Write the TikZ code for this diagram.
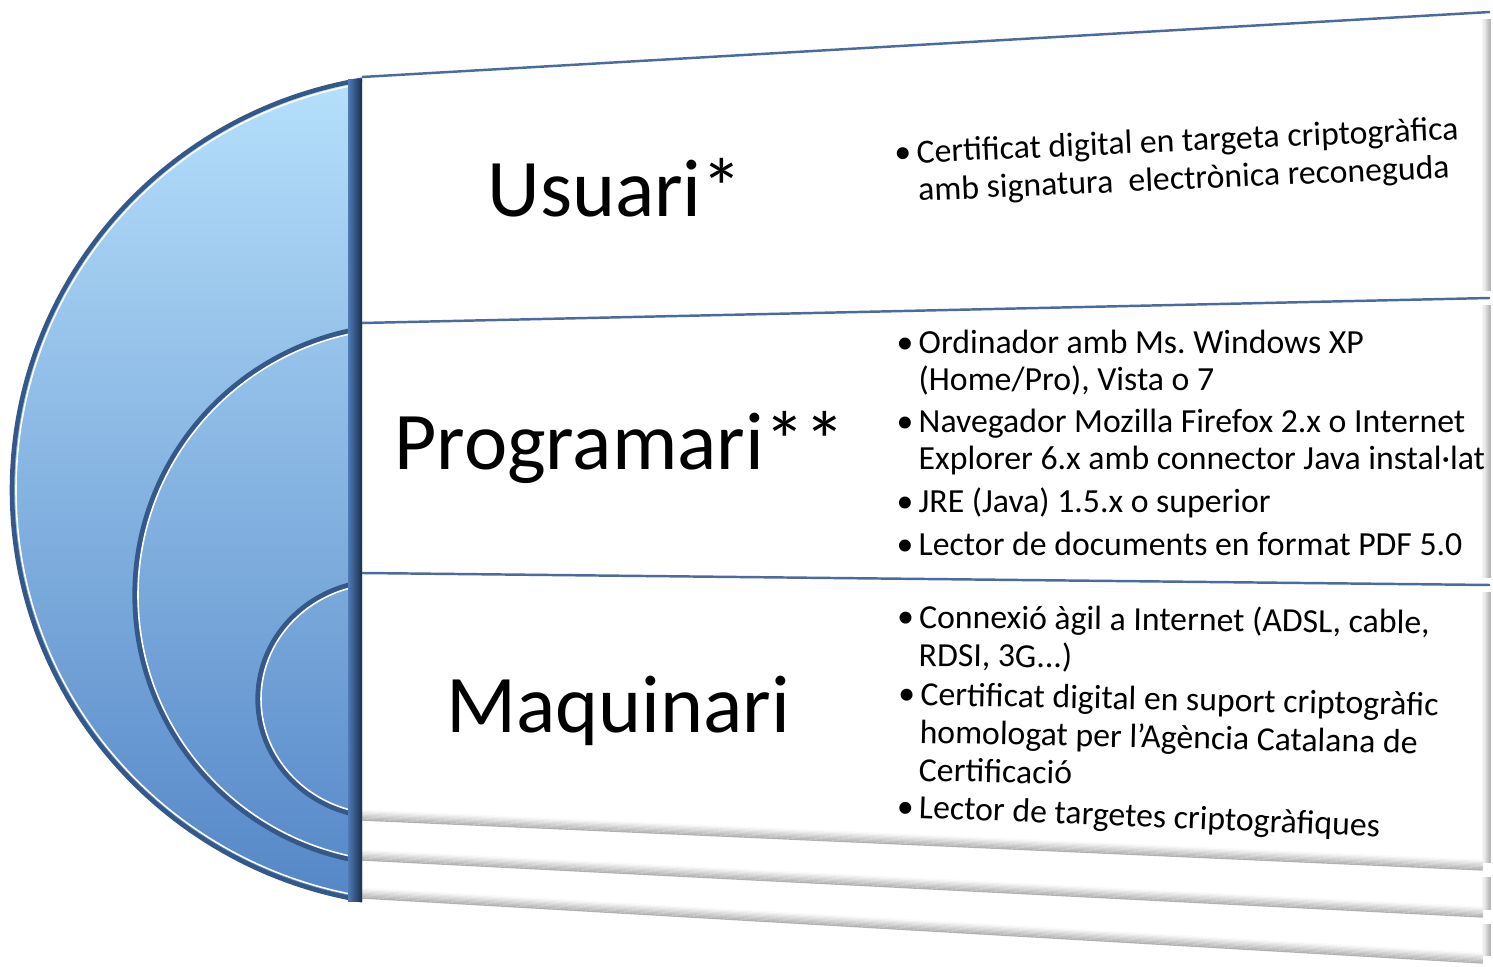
\documentclass[tikz,border=0pt]{standalone}
\usepackage{fontspec}
\setmainfont{Carlito}
\usepackage{xcolor}
\frenchspacing
\newlength{\ridgew}
\setlength{\ridgew}{1.5pt}
\definecolor{shapetop}{RGB}{182,224,251}
\definecolor{shapemid}{RGB}{122,174,230}
\definecolor{shapebot}{RGB}{84,134,199}
\definecolor{ridgedark}{RGB}{52,88,138}
\definecolor{barlight}{RGB}{78,122,182}
\definecolor{bardark}{RGB}{26,45,74}
\definecolor{panelline}{RGB}{74,106,160}
\newcommand{\itemdot}{\llap{\textbullet\hspace{1.5pt}}}

\tikzset{
  divider/.style={draw=panelline, line width=0.7pt},
  ridge/.style={draw=ridgedark, line width=\ridgew},
  glint/.style={draw=white, line width=0.45pt},
  biglabel/.style={font=\fontsize{23.3pt}{28pt}\selectfont, anchor=base, inner sep=0pt},
  bullets/.style={font=\fontsize{9.6pt}{10.8pt}\selectfont, align=left, anchor=base west, inner sep=0pt},
}

\begin{document}
\begin{tikzpicture}[x=0.01cm, y=-0.01cm]
\useasboundingbox (0,0) rectangle (1493,967);

% corners of the panel
\coordinate (tl) at (362,77);   \coordinate (tr) at (1490,12);
\coordinate (d1l) at (362,323); \coordinate (d1r) at (1490,298);
\coordinate (d2l) at (362,573); \coordinate (d2r) at (1490,585);
\coordinate (bl) at (362,820);  \coordinate (br) at (1490,870);
\coordinate (s1l) at (362,860); \coordinate (s1r) at (1490,917);
\coordinate (s2l) at (362,898); \coordinate (s2r) at (1490,963);

% shadows at the right edge and under the sheets
\foreach \a/\b in {tr/d1r, d1r/d2r, d2r/br, br/s1r, s1r/s2r}
  \foreach \k in {0,...,6}
    \draw[gray!\the\numexpr 55-\k*8\relax, line width=0.4pt]
      ([xshift=-\k*0.35pt, yshift=-2pt]\a) -- ([xshift=-\k*0.35pt, yshift=2pt]\b);
\foreach \a/\b in {bl/br, s1l/s1r, s2l/s2r}
  \foreach \k in {0,...,8}
    \draw[gray!\the\numexpr 60-\k*7\relax, line width=0.4pt]
      ([yshift=\k*0.35pt]\a) -- ([xshift=-2pt, yshift=\k*0.35pt]\b);

\draw[divider] (tl) -- (tr);
\draw[divider] (d1l) -- (d1r);
\draw[divider] (d2l) -- (d2r);

% blue half disc
\begin{scope}
  \clip (0,0) rectangle (362,967);
  \shade[top color=shapetop, middle color=shapemid, bottom color=shapebot]
    (432,490) ellipse [x radius=420, y radius=416];
  \draw[ridgedark, line width=1.3pt] (432,490) ellipse [x radius=420, y radius=416];
  \draw[glint] (432,490) ellipse [x radius=416, y radius=412];
\end{scope}
\begin{scope}
  \clip (0,0) rectangle (352,967);
  \draw[ridge] (407,595) ellipse [x radius=272, y radius=270];
  \draw[glint] (407,595) ellipse [x radius=269, y radius=267];
  \draw[ridge] (382,699) ellipse [x radius=124, y radius=118];
  \draw[glint] (382,699) ellipse [x radius=121, y radius=115];
\end{scope}
\shade[left color=barlight, right color=bardark] (348,80) rectangle (362,902);

% labels
\node[biglabel] (usuari) at (615,217) {Usuari*};
\node[biglabel] (programari) at (620,470) {Programari**};
\node[biglabel] (maquinari) at (618,733) {Maquinari};

% Usuari (anchor on the last line)
\node[bullets, rotate=2.5] (u1) at (918,201)
  {\itemdot Certificat digital en targeta criptogràfica\\amb signatura\ \ electrònica reconeguda};

% Programari
\node[bullets] (p1) at (918,391) {\itemdot Ordinador amb Ms. Windows XP\\(Home/Pro), Vista o 7};
\node[bullets] (p2) at (918,470)
  {\itemdot Navegador Mozilla Firefox 2.x o Internet\\Explorer 6.x amb connector Java instal·lat};
\node[bullets] (p3) at (918,513) {\itemdot JRE (Java) 1.5.x o superior};
\node[bullets] (p4) at (918,556) {\itemdot Lector de documents en format PDF 5.0};

% Maquinari
\node[bullets, rotate=-0.6] (m1) at (918,666) {\itemdot Connexió àgil a Internet (ADSL, cable,\\RDSI, 3G...)};
\node[bullets, rotate=-1.2] (m2) at (918,781)
  {\itemdot Certificat digital en suport criptogràfic\\homologat per l’Agència Catalana de\\Certificació};
\node[bullets, rotate=-2.3] (m3) at (918,818) {\itemdot Lector de targetes criptogràfiques};
\end{tikzpicture}
\end{document}
